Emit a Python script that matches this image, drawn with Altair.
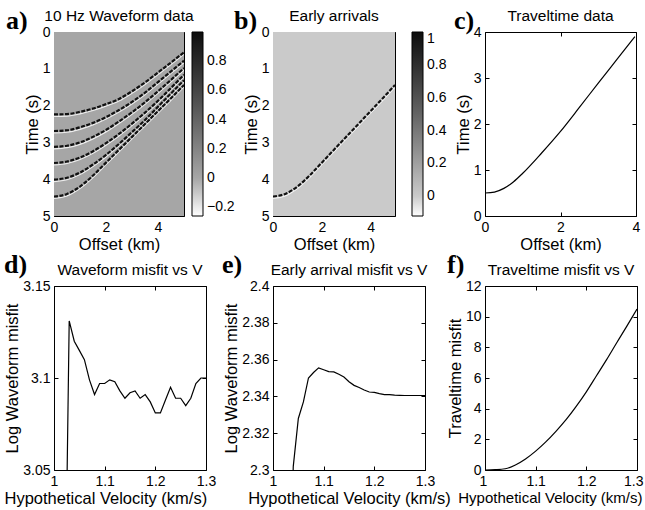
import altair as alt
import pandas as pd

SANS = "Liberation Sans"
SERIF = "Liberation Serif"

# ---------------- values ----------------
offset_range = [0, 5]
time_range = [0, 5]
offset_km = [0, 0.5, 1, 1.5, 2, 2.5, 3, 3.5, 4, 4.5, 5]
event1_s = [2.24, 2.23, 2.17, 2.08, 1.96, 1.82, 1.61, 1.37, 1.10, 0.83, 0.55]
event2_s = [2.69, 2.67, 2.59, 2.47, 2.31, 2.12, 1.90, 1.65, 1.36, 1.07, 0.78]
event3_s = [3.12, 3.09, 3.00, 2.85, 2.66, 2.43, 2.18, 1.91, 1.61, 1.30, 0.98]
event4_s = [3.56, 3.52, 3.41, 3.24, 3.02, 2.77, 2.49, 2.19, 1.87, 1.52, 1.16]
event5_s = [4.01, 3.96, 3.82, 3.60, 3.34, 3.04, 2.72, 2.39, 2.03, 1.67, 1.31]
event6_s = [4.47, 4.40, 4.20, 3.90, 3.55, 3.20, 2.85, 2.50, 2.15, 1.80, 1.44]
early_s = [4.47, 4.40, 4.20, 3.90, 3.55, 3.20, 2.85, 2.50, 2.15, 1.80, 1.44]

tt_offset_km = [0, 0.25, 0.5, 0.75, 1, 1.5, 2, 2.5, 3, 3.5, 3.97]
tt_time_s = [0.5, 0.52, 0.6, 0.74, 0.93, 1.37, 1.84, 2.36, 2.89, 3.41, 3.9]

vel_d = [1.02, 1.03, 1.04, 1.05, 1.06, 1.07, 1.08, 1.09, 1.10, 1.11, 1.12, 1.13, 1.14, 1.15,
         1.16, 1.17, 1.18, 1.19, 1.20, 1.21, 1.22, 1.23, 1.24, 1.25, 1.26, 1.27, 1.28, 1.29, 1.30]
misfit_d = [2.93, 3.131, 3.12, 3.115, 3.11, 3.099, 3.091, 3.097, 3.097, 3.099, 3.098, 3.093, 3.089,
            3.092, 3.093, 3.089, 3.091, 3.087, 3.081, 3.081, 3.088, 3.095, 3.089, 3.089, 3.085,
            3.089, 3.097, 3.1, 3.1]

vel_e = [1.03, 1.04, 1.05, 1.06, 1.07, 1.08, 1.09, 1.10, 1.11, 1.12, 1.13, 1.14, 1.15, 1.16,
         1.17, 1.18, 1.19, 1.20, 1.21, 1.22, 1.23, 1.24, 1.25, 1.26, 1.27, 1.28, 1.29, 1.30]
misfit_e = [2.20, 2.302, 2.328, 2.337, 2.35, 2.353, 2.3555, 2.3545, 2.3535, 2.3533, 2.352, 2.3505,
            2.348, 2.346, 2.3448, 2.3435, 2.3424, 2.3422, 2.3415, 2.341, 2.341, 2.3407, 2.3406,
            2.3405, 2.3405, 2.3405, 2.3405, 2.3405]

vel_f = [1.00, 1.02, 1.04, 1.06, 1.08, 1.10, 1.12, 1.14, 1.16, 1.18, 1.20, 1.22, 1.24, 1.26, 1.28, 1.30]
misfit_f = [0, 0.02, 0.08, 0.33, 0.72, 1.23, 1.83, 2.52, 3.28, 4.15, 5.1, 6.15, 7.2, 8.3, 9.38, 10.5]

wave_cbar_stops = [-0.26, 0.0, 1.0]
wave_cbar_ticks = [-0.2, 0, 0.2, 0.4, 0.6, 0.8]
early_cbar_stops = [-0.12, 0.0, 1.0]
early_cbar_ticks = [0, 0.2, 0.4, 0.6, 0.8, 1]

offset_ticks = [0, 2, 4]
time_ticks = [0, 1, 2, 3, 4, 5]
tt_ticks = [0, 1, 2, 3, 4]
vel_ticks = [1, 1.1, 1.2, 1.3]
d_ticks = [3.05, 3.1, 3.15]
e_ticks = [2.3, 2.32, 2.34, 2.36, 2.38, 2.4]
f_ticks = [0, 2, 4, 6, 8, 10, 12]

panel_titles = ["10 Hz Waveform data", "Early arrivals", "Traveltime data",
                "Waveform misfit vs V", "Early arrival misfit vs V", "Traveltime misfit vs V"]
panel_letters = ["a)", "b)", "c)", "d)", "e)", "f)"]

# ---------------- styling ----------------
ROW_H = 184
WAVE_COLORS = ["#ffffff", "#a6a6a6", "#0d0d0d"]
EARLY_COLORS = ["#ffffff", "#cacaca", "#0d0d0d"]


def ax_bottom(title, values, **kw):
    return alt.Axis(orient="bottom", title=title, values=values, format="~g", **kw)


def ax_left(title, values):
    return alt.Axis(orient="left", title=title, values=values, format="~g")


def ax_top(values):
    return alt.Axis(orient="top", title=None, values=values, labels=False)


def ax_right(values):
    return alt.Axis(orient="right", title=None, values=values, labels=False)


def spacer(width, letter, dx, dy):
    # empty cell of the grid that carries the bold panel letter of the next panel
    return alt.Chart(pd.DataFrame({"label": [letter]})).mark_text(
        font=SERIF, fontWeight="bold", fontSize=26, align="left",
        baseline="alphabetic", x=dx, y=dy, color="black"
    ).encode(text="label:N").properties(
        width=width, height=ROW_H, view=alt.ViewBackground(strokeOpacity=0))


def seismic_panel(curves, stops, colors, cticks, title, width, cbar_x):
    xs = alt.Scale(domain=offset_range, nice=False, zero=False)
    ys = alt.Scale(domain=time_range, reverse=True, nice=False, zero=False)
    bg_df = pd.DataFrame({"o0": [offset_range[0]], "o1": [offset_range[1]],
                          "t0": [time_range[0]], "t1": [time_range[1]], "amp": [0.0]})
    bg = alt.Chart(bg_df).mark_rect().encode(
        x=alt.X("o0:Q", scale=xs, axis=ax_bottom("Offset (km)", offset_ticks)),
        x2="o1",
        y=alt.Y("t0:Q", scale=ys, axis=ax_left("Time (s)", time_ticks)),
        y2="t1",
        color=alt.Color("amp:Q", scale=alt.Scale(domain=stops, range=colors),
                        legend=alt.Legend(orient="none", legendX=cbar_x, legendY=0,
                                          direction="vertical", title=None,
                                          values=cticks, format="~g",
                                          gradientLength=ROW_H, gradientThickness=11,
                                          gradientStrokeColor="black", gradientStrokeWidth=1,
                                          labelFont=SANS, labelFontSize=14, labelColor="black",
                                          labelOverlap=False, labelOffset=4, padding=0)),
    )
    white = alt.Chart(curves).mark_line(
        color="white", strokeWidth=1.2, opacity=0.8, yOffset=2, interpolate="monotone", clip=True
    ).encode(x=alt.X("offset:Q", scale=xs, axis=None),
             y=alt.Y("time:Q", scale=ys, axis=None), detail="event:N")
    black = alt.Chart(curves).mark_line(
        color="#111111", strokeWidth=2.2, strokeDash=[4, 1.5], interpolate="monotone", clip=True
    ).encode(x=alt.X("offset:Q", scale=xs, axis=None),
             y=alt.Y("time:Q", scale=ys, axis=None), detail="event:N")
    mirror = alt.Chart(bg_df).mark_rect(opacity=0).encode(
        x=alt.X("o0:Q", scale=xs, axis=ax_top(offset_ticks)), x2="o1",
        y=alt.Y("t0:Q", scale=ys, axis=ax_right(time_ticks)), y2="t1")
    return alt.layer(bg, white, black, mirror).resolve_axis(
        x="independent", y="independent").properties(width=width, height=ROW_H, title=title)


def line_panel(df, xcol, ycol, xdom, ydom, xvals, yvals, xaxis, ytitle, title, width, interp):
    xs = alt.Scale(domain=xdom, nice=False, zero=False)
    ys = alt.Scale(domain=ydom, nice=False, zero=False)
    main = alt.Chart(df).mark_line(color="black", strokeWidth=1.2, clip=True,
                                   interpolate=interp).encode(
        x=alt.X(f"{xcol}:Q", scale=xs, axis=xaxis),
        y=alt.Y(f"{ycol}:Q", scale=ys, axis=ax_left(ytitle, yvals)))
    mirror = alt.Chart(df).mark_line(opacity=0).encode(
        x=alt.X(f"{xcol}:Q", scale=xs, axis=ax_top(xvals)),
        y=alt.Y(f"{ycol}:Q", scale=ys, axis=ax_right(yvals)))
    return alt.layer(main, mirror).resolve_axis(
        x="independent", y="independent").properties(width=width, height=ROW_H, title=title)


# ---------------- tables ----------------
wave_rows = []
for k, ts in enumerate([event1_s, event2_s, event3_s, event4_s, event5_s, event6_s], start=1):
    for x, t in zip(offset_km, ts):
        wave_rows.append({"event": k, "offset": x, "time": t})
wave_df = pd.DataFrame(wave_rows)
early_df = pd.DataFrame({"event": 1, "offset": offset_km, "time": early_s})
tt_df = pd.DataFrame({"offset": tt_offset_km, "time": tt_time_s})
d_df = pd.DataFrame({"vel": vel_d, "misfit": misfit_d})
e_df = pd.DataFrame({"vel": vel_e, "misfit": misfit_e})
f_df = pd.DataFrame({"vel": vel_f, "misfit": misfit_f})

pa = seismic_panel(wave_df, wave_cbar_stops, WAVE_COLORS, wave_cbar_ticks,
                   panel_titles[0], 130, 138)
pb = seismic_panel(early_df, early_cbar_stops, EARLY_COLORS, early_cbar_ticks,
                   panel_titles[1], 122, 139)
pc = line_panel(tt_df, "offset", "time", [0, 4], [0, 4], offset_ticks, tt_ticks,
                ax_bottom("Offset (km)", offset_ticks), "Time (s)", panel_titles[2], 151,
                "monotone")
VT = "Hypothetical Velocity (km/s)"
pd_ = line_panel(d_df, "vel", "misfit", [1, 1.3], [3.05, 3.15], vel_ticks, d_ticks,
                 ax_bottom(VT, vel_ticks, titleAnchor="start", titleAlign="left", titleX=-50),
                 "Log Waveform misfit", panel_titles[3], 152, "linear")
pe = line_panel(e_df, "vel", "misfit", [1, 1.3], [2.3, 2.4], vel_ticks, e_ticks,
                ax_bottom(VT, vel_ticks), "Log Waveform misfit", panel_titles[4], 152, "linear")
pf = line_panel(f_df, "vel", "misfit", [1, 1.3], [0, 12], vel_ticks, f_ticks,
                ax_bottom(VT, vel_ticks, titleFontSize=15, titleAlign="right", titleX=157,
                          labelFlush=True, labelFlushOffset=6),
                "Traveltime misfit", panel_titles[5], 152, "monotone")

chart = alt.concat(
    spacer(1, panel_letters[0], -46, -3), pa,
    spacer(65, panel_letters[1], 27, -3), pb,
    spacer(58, panel_letters[2], 28, -3), pc,
    spacer(1, panel_letters[3], -48, -13), pd_,
    spacer(65, panel_letters[4], 15, -13), pe,
    spacer(58, panel_letters[5], 21, -13), pf,
    columns=6, spacing={"row": 70, "column": 1}, bounds="flush",
).resolve_scale(color="independent").properties(
    autosize=alt.AutoSizeParams(type="none"),
    padding={"left": 52, "top": 32, "right": 593, "bottom": 478},
).configure(
    background="white", font=SANS
).configure_view(
    stroke="black", strokeWidth=1
).configure_axis(
    offset=-4, tickSize=4, domain=False, grid=False, labelPadding=4,
    labelFlush=False, labelOverlap=False, labelFont=SANS, labelFontSize=14,
    labelColor="black", titleFont=SANS, titleFontSize=16.5, titleFontWeight="normal",
    titleColor="black", tickColor="black", tickWidth=1, titlePadding=2, zindex=1
).configure_title(
    font=SANS, fontSize=15.5, fontWeight="normal", anchor="middle", frame="group",
    offset=1, color="black"
)

chart.save("out.html", embed_options={"renderer": "svg", "actions": False})
